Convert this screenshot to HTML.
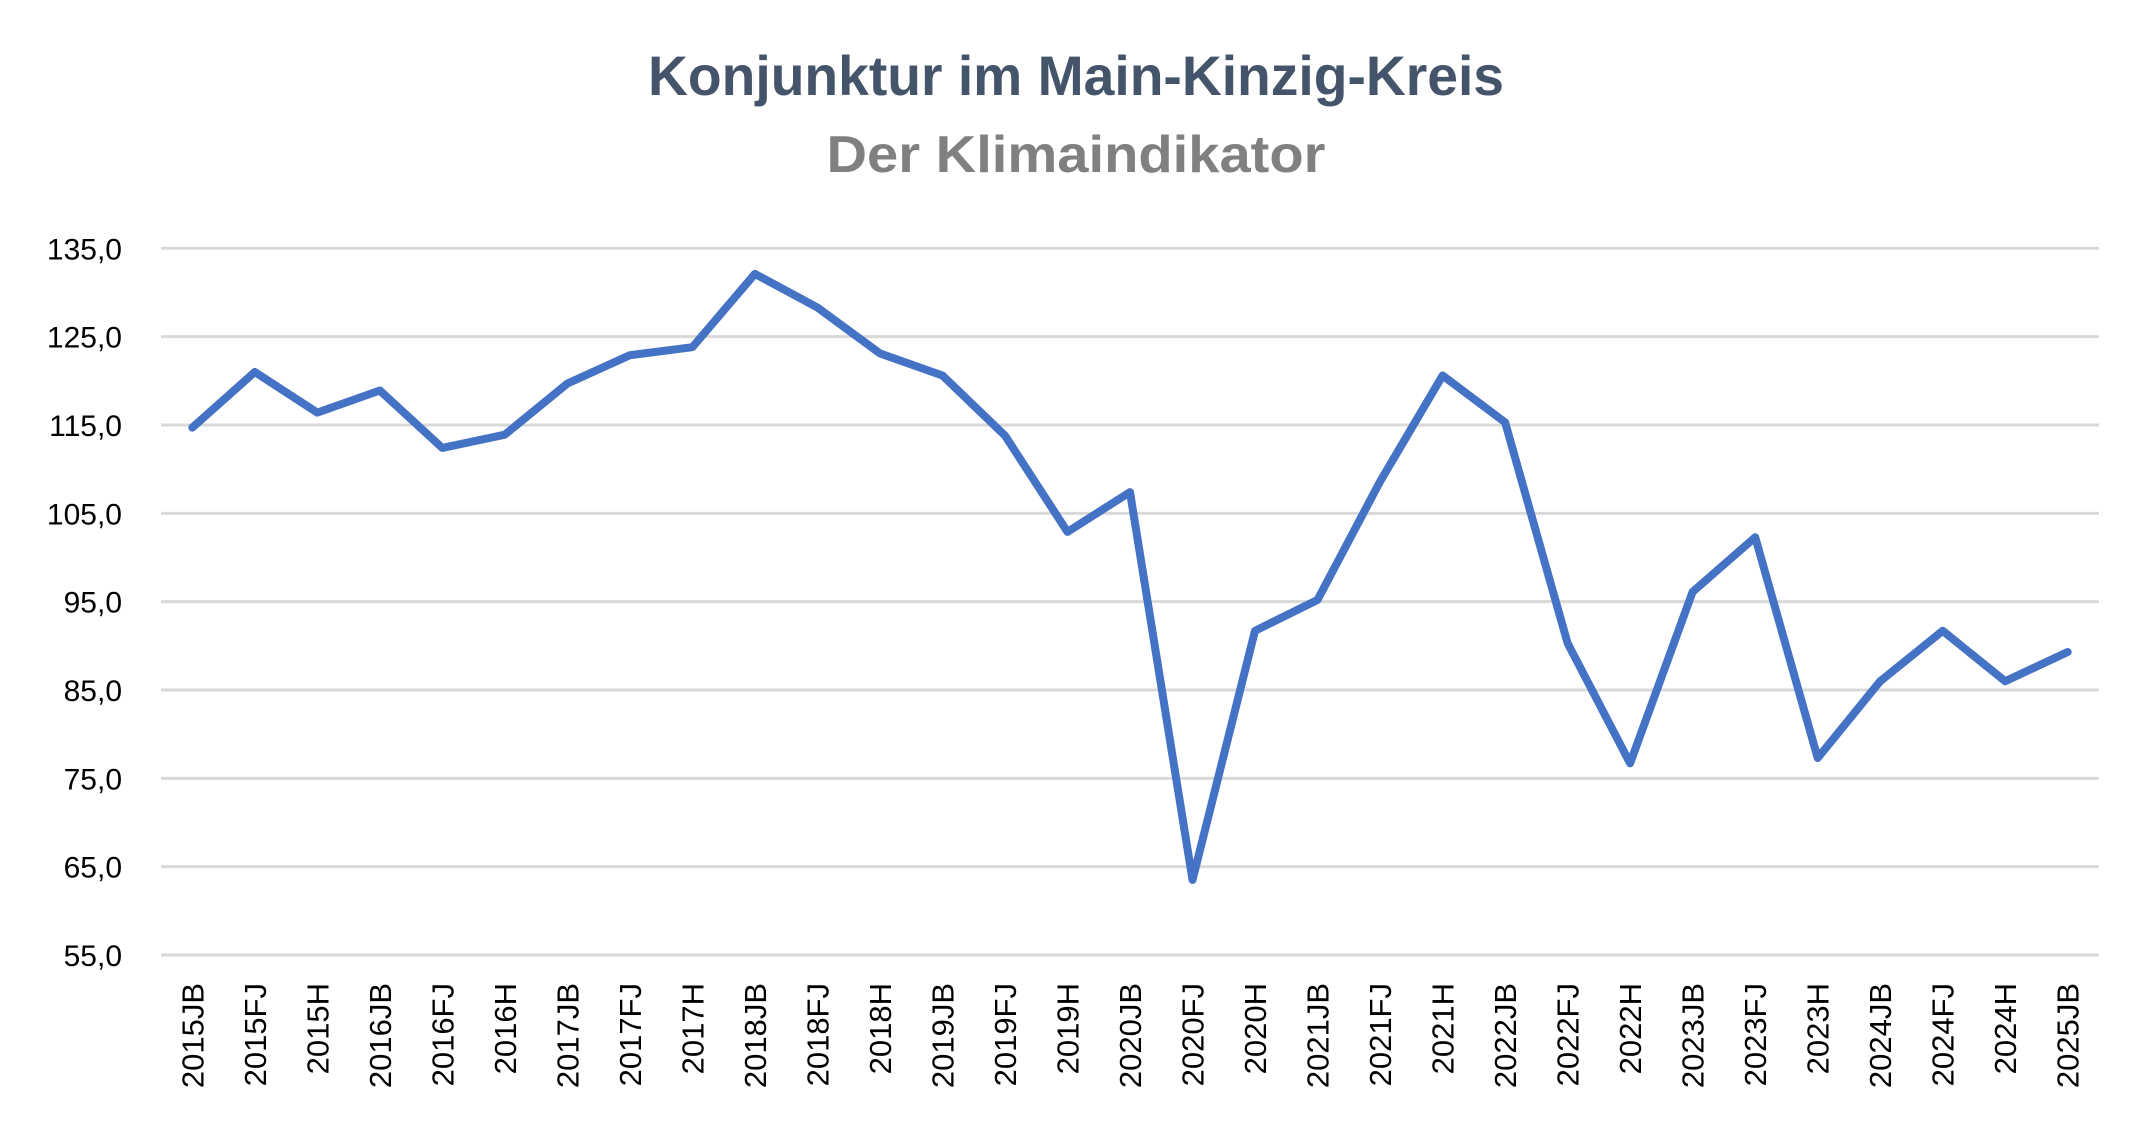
<!DOCTYPE html>
<html><head><meta charset="utf-8"><style>
html,body{margin:0;padding:0;background:#fff;}
svg{display:block;font-family:"Liberation Sans",sans-serif;}
</style></head><body>
<svg id="chart" width="2148" height="1131" viewBox="0 0 2148 1131" xmlns="http://www.w3.org/2000/svg">
<rect width="2148" height="1131" fill="#fff"/>
<text x="1076" y="95" text-anchor="middle" font-size="56" font-weight="bold" fill="#44546a" textLength="856" lengthAdjust="spacingAndGlyphs">Konjunktur im Main-Kinzig-Kreis</text>
<text x="1076" y="172" text-anchor="middle" font-size="52" font-weight="bold" fill="#808080" textLength="499" lengthAdjust="spacingAndGlyphs">Der Klimaindikator</text>
<g id="grid"></g>
<g id="ylabels"></g>
<g id="xlabels"></g>
<g id="series"></g>
</svg>
<script>
const categories = ["2015JB","2015FJ","2015H","2016JB","2016FJ","2016H","2017JB","2017FJ","2017H","2018JB","2018FJ","2018H","2019JB","2019FJ","2019H","2020JB","2020FJ","2020H","2021JB","2021FJ","2021H","2022JB","2022FJ","2022H","2023JB","2023FJ","2023H","2024JB","2024FJ","2024H","2025JB"];
const values = [114.7,121.0,116.4,118.9,112.4,113.9,119.7,122.9,123.8,132.1,128.3,123.1,120.6,113.8,102.9,107.4,63.5,91.7,95.2,108.6,120.6,115.3,90.3,76.7,96.1,102.3,77.3,86.0,91.7,86.0,89.3];
const yTicks = [55,65,75,85,95,105,115,125,135];
const yTickLabels = ["55,0","65,0","75,0","85,0","95,0","105,0","115,0","125,0","135,0"];

const NS = "http://www.w3.org/2000/svg";
const plotLeft = 161, plotRight = 2099, plotTop = 248.3, plotBottom = 955;
const yMin = 55, yMax = 135;
function yScale(v){ return plotBottom - (v - yMin) / (yMax - yMin) * (plotBottom - plotTop); }
function xScale(i){ const bw = (plotRight - plotLeft) / categories.length; return plotLeft + bw * (i + 0.5); }

const grid = document.getElementById('grid');
const yl = document.getElementById('ylabels');
yTicks.forEach((t, i) => {
  const y = yScale(t);
  const ln = document.createElementNS(NS, 'line');
  ln.setAttribute('x1', plotLeft); ln.setAttribute('x2', plotRight);
  ln.setAttribute('y1', y); ln.setAttribute('y2', y);
  ln.setAttribute('stroke', '#d9d9d9'); ln.setAttribute('stroke-width', '3');
  
  
  grid.appendChild(ln);
  const tx = document.createElementNS(NS, 'text');
  tx.setAttribute('x', 122); tx.setAttribute('y', y + 11);
  tx.setAttribute('text-anchor', 'end'); tx.setAttribute('font-size', '30');
  tx.setAttribute('fill', '#000');
  tx.textContent = yTickLabels[i];
  
  
  yl.appendChild(tx);
});

const xl = document.getElementById('xlabels');
categories.forEach((c, i) => {
  const x = xScale(i) + 11;
  const tx = document.createElementNS(NS, 'text');
  tx.setAttribute('transform', 'translate(' + x + ',983) rotate(-90)');
  tx.setAttribute('text-anchor', 'end'); tx.setAttribute('font-size', '31');
  tx.setAttribute('fill', '#000');
  tx.textContent = c;
  
  
  xl.appendChild(tx);
});

const pts = values.map((v, i) => xScale(i).toFixed(1) + ',' + yScale(v).toFixed(1)).join(' ');
const pl = document.createElementNS(NS, 'polyline');
pl.setAttribute('points', pts);
pl.setAttribute('fill', 'none'); pl.setAttribute('stroke', '#4472c4');
pl.setAttribute('stroke-width', '8'); pl.setAttribute('stroke-linejoin', 'round'); pl.setAttribute('stroke-linecap', 'round');


document.getElementById('series').appendChild(pl);
</script>
</body></html>
